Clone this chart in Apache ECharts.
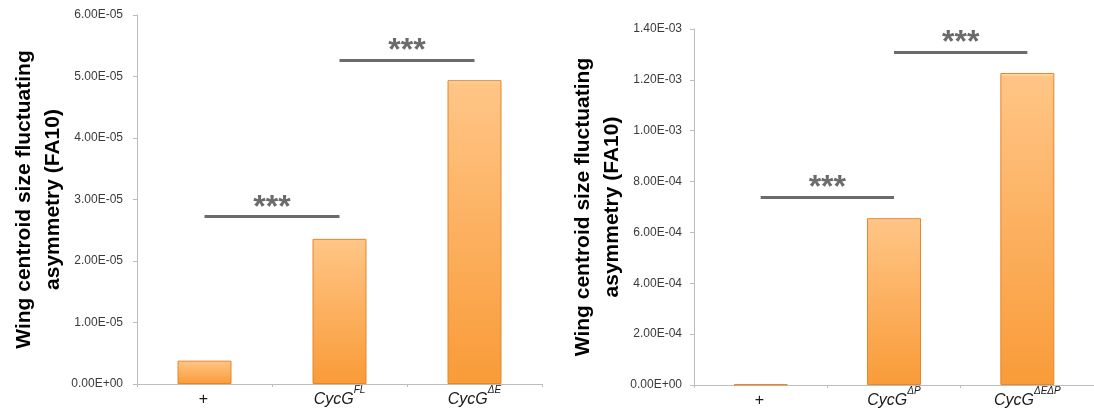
<!DOCTYPE html>
<html>
<head>
<meta charset="utf-8">
<script src="https://cdn.jsdelivr.net/npm/echarts@6/dist/echarts.min.js"></script>
<style>
html,body{margin:0;padding:0;background:#fff;}
#chart{width:1094px;height:412px;}
</style>
</head>
<body>
<div id="chart"></div>
<script>
// ---- data ----
const leftMain = ['+', 'CycG', 'CycG'];
const leftSup = ['', 'FL', 'ΔE'];
const leftValues = [3.8e-6, 2.36e-5, 4.94e-5];
const leftTicks = {min: 0, max: 6e-5, interval: 1e-5};
const leftSig = [ {from: 0, to: 1, y: 2.72e-5, text: '***'}, {from: 1, to: 2, y: 5.26e-5, text: '***'} ];

const rightMain = ['+', 'CycG', 'CycG'];
const rightSup = ['', 'ΔP', 'ΔEΔP'];
const rightValues = [2.5e-6, 6.56e-4, 1.227e-3];
const rightTicks = {min: 0, max: 1.4e-3, interval: 2e-4};
const rightSig = [ {from: 0, to: 1, y: 7.37e-4, text: '***'}, {from: 1, to: 2, y: 1.308e-3, text: '***'} ];

const yTitle = 'Wing centroid size fluctuating\nasymmetry (FA10)';

// ---- helpers ----
const FONT = '"Liberation Sans", Arial, sans-serif';
function sci(v) {
  const s = Number(v).toExponential(2).split('e');
  const exp = parseInt(s[1], 10);
  const sign = exp < 0 ? '-' : '+';
  const a = Math.abs(exp);
  return s[0] + 'E' + sign + (a < 10 ? '0' + a : String(a));
}
function cats(main, sup) { return main.map((m, i) => m + (sup[i] ? ' ' + sup[i] : '')); }
function labelFormatter(main, sup) {
  return function (val, idx) {
    return '{m|' + main[idx] + '}{s|' + (sup[idx] || ' ') + '}';
  };
}
const barColor = new echarts.graphic.LinearGradient(0, 0, 0, 1, [
  {offset: 0, color: '#FFE2AE'},
  {offset: 0.012, color: '#FFC586'},
  {offset: 1, color: '#F99B38'}
]);
function sigLines(sig, names) {
  return sig.map(s => [
    {coord: [names[s.from], s.y], label: {formatter: s.text}},
    {coord: [names[s.to], s.y]}
  ]);
}

const leftNames = cats(leftMain, leftSup);
const rightNames = cats(rightMain, rightSup);

const xAxisCommon = {
  type: 'category',
  axisLine: {lineStyle: {color: '#BDBDBD', width: 1}},
  axisTick: {show: true, length: 3, lineStyle: {color: '#BDBDBD'}},
  axisLabel: {
    margin: 4,
    color: '#1a1a1a',
    rich: {
      m: {fontSize: 16, fontStyle: 'italic', fontFamily: FONT, lineHeight: 20, verticalAlign: 'bottom', color: '#1a1a1a'},
      s: {fontSize: 10, fontStyle: 'italic', fontFamily: FONT, lineHeight: 10, padding: [0, 0, 13, 0], verticalAlign: 'bottom', color: '#1a1a1a'}
    }
  }
};
function yAxis(t, gap, margin) {
  return {
    type: 'value',
    min: t.min, max: t.max, interval: t.interval,
    name: yTitle,
    nameLocation: 'middle',
    nameGap: gap,
    nameTextStyle: {fontSize: 21, fontWeight: 'bold', color: '#000', fontFamily: FONT, lineHeight: 29},
    axisLine: {show: true, lineStyle: {color: '#BDBDBD', width: 1}},
    axisTick: {show: true, length: 4, lineStyle: {color: '#BDBDBD'}},
    splitLine: {show: false},
    axisLabel: {formatter: sci, fontSize: 12, color: '#3a3a3a', fontFamily: FONT, margin: margin}
  };
}
function barSeries(xi, values, sig, names) {
  return {
    type: 'bar',
    xAxisIndex: xi, yAxisIndex: xi,
    data: values,
    barWidth: 54,
    itemStyle: {color: barColor, borderColor: '#E3862C', borderWidth: 1},
    silent: true,
    markLine: {
      silent: true,
      symbol: ['none', 'none'],
      lineStyle: {color: '#6B6B6B', width: 3, type: 'solid'},
      label: {position: 'insideMiddleTop', distance: -7, fontSize: 32, fontWeight: 'bold', color: '#6B6B6B', fontFamily: FONT},
      data: sigLines(sig, names)
    }
  };
}

const option = {
  animation: false,
  backgroundColor: '#fff',
  grid: [
    {left: 137, top: 15, width: 405, height: 369},
    {left: 694, top: 29, width: 407, height: 356}
  ],
  xAxis: [
    Object.assign({}, xAxisCommon, {gridIndex: 0, data: leftNames, axisLabel: Object.assign({}, xAxisCommon.axisLabel, {formatter: labelFormatter(leftMain, leftSup)})}),
    Object.assign({}, xAxisCommon, {gridIndex: 1, data: rightNames, axisLabel: Object.assign({}, xAxisCommon.axisLabel, {formatter: labelFormatter(rightMain, rightSup)})})
  ],
  yAxis: [
    Object.assign(yAxis(leftTicks, 69, 14), {gridIndex: 0}),
    Object.assign(yAxis(rightTicks, 66, 12), {gridIndex: 1})
  ],
  series: [
    barSeries(0, leftValues, leftSig, leftNames),
    barSeries(1, rightValues, rightSig, rightNames)
  ]
};
const chart = echarts.init(document.getElementById('chart'), null, {renderer: 'canvas'});
chart.setOption(option);
</script>
</body>
</html>
